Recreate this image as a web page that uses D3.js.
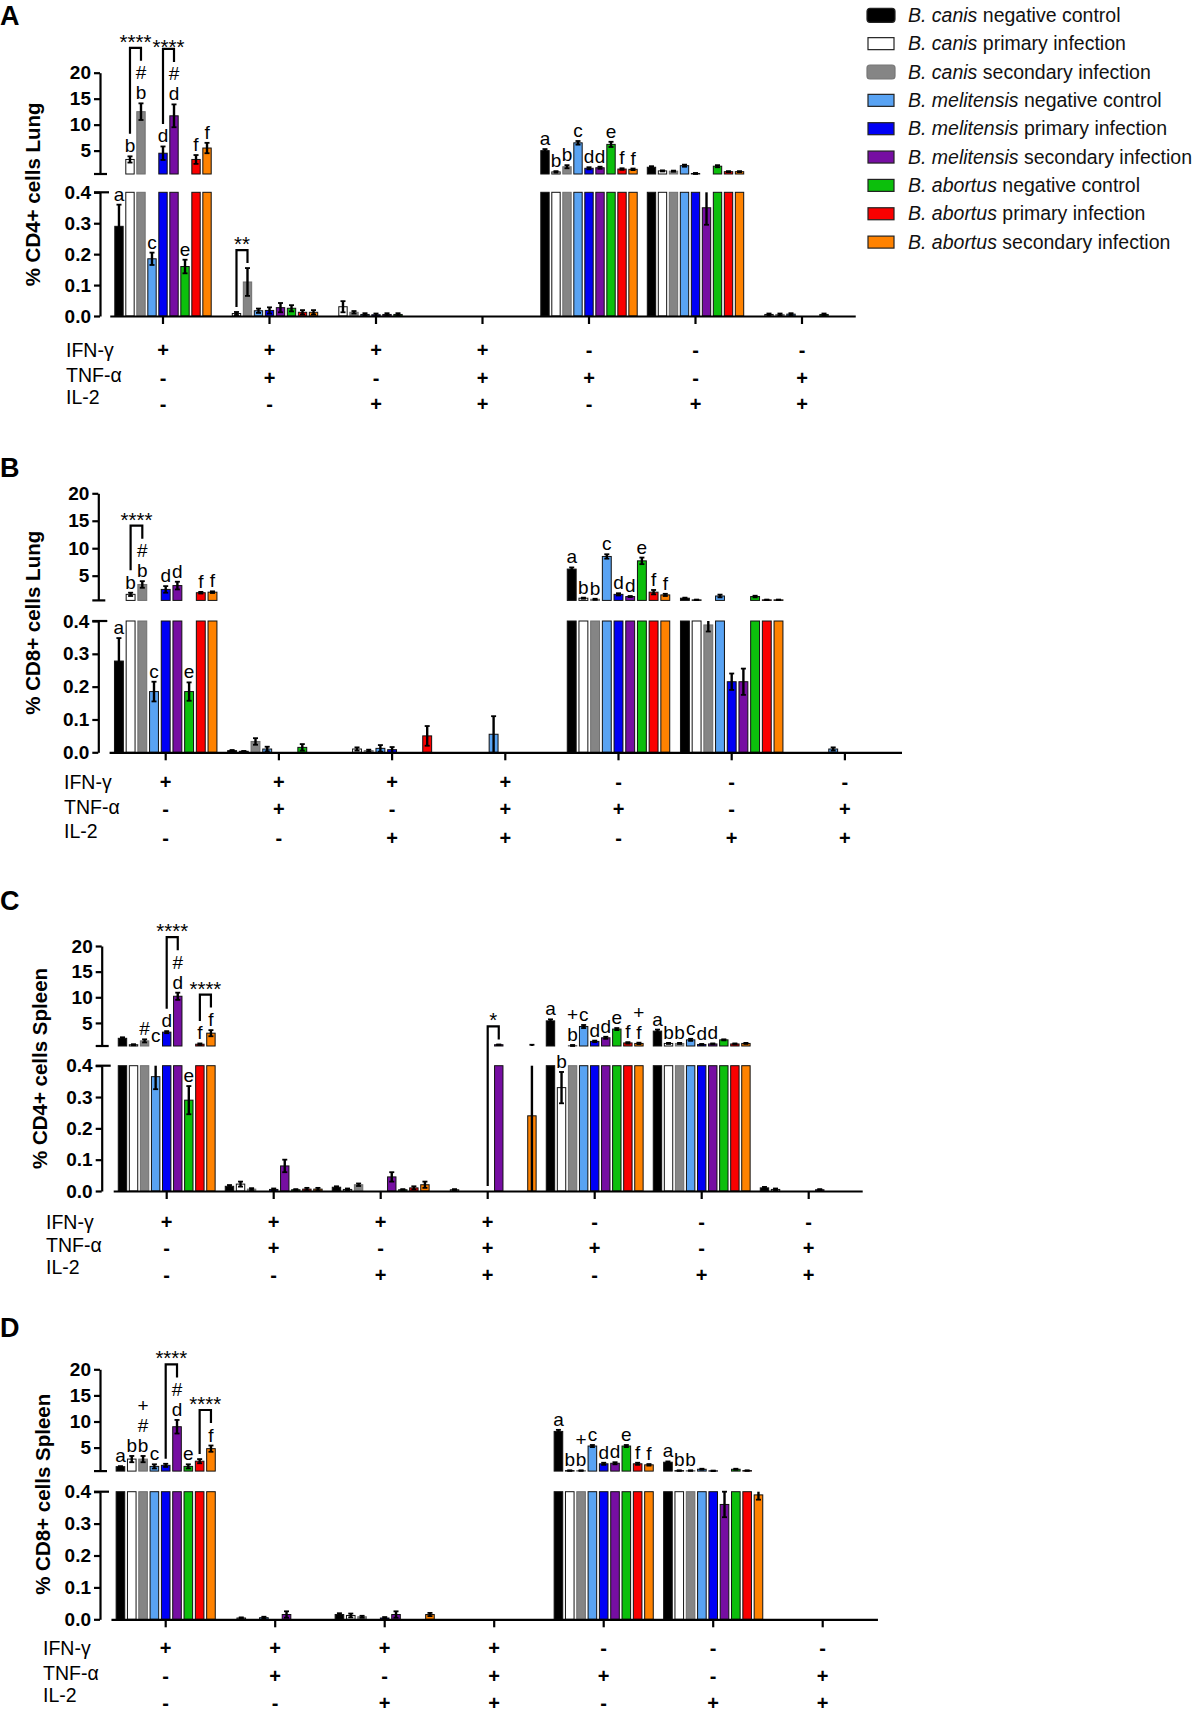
<!DOCTYPE html>
<html><head><meta charset="utf-8">
<script src="https://cdn.jsdelivr.net/npm/d3@7"></script>
<style>body{margin:0;background:#fff}svg{display:block}</style>
</head><body>
<svg id="chart" width="1202" height="1714"></svg>
<script>
// ---------- DATA ----------
const seriesSpecies = ["B. canis","B. canis","B. canis","B. melitensis","B. melitensis","B. melitensis","B. abortus","B. abortus","B. abortus"];
const seriesTypes = ["negative control","primary infection","secondary infection","negative control","primary infection","secondary infection","negative control","primary infection","secondary infection"];
const seriesColors = ["#000000","#ffffff","#858585","#59a3f3","#0000f5","#760ea2","#0cbf0c","#fa0000","#ff8200"];
const groups = ["IFN+TNF-IL2-","IFN+TNF+IL2-","IFN+TNF-IL2+","IFN+TNF+IL2+","IFN-TNF+IL2-","IFN-TNF-IL2+","IFN-TNF+IL2+"];
const rowNames = ["IFN-γ","TNF-α","IL-2"];
const ifnRow = ["+","+","+","+","-","-","-"];
const tnfRow = ["-","+","-","+","+","-","+"];
const il2Row = ["-","-","+","+","-","+","+"];
const upperTicks = [5,10,15,20];
const lowerTicks = [0,0.1,0.2,0.3,0.4];
const axisTitles = ["% CD4+ cells Lung","% CD8+ cells Lung","% CD4+ cells Spleen","% CD8+ cells Spleen"];
const panelLetters = ["A","B","C","D"];

// Panel A: CD4+ Lung (rows = cytokine groups, columns = series)
const cd4LungMean = [
  [0.29, 3.3, 12.5, 0.185, 4.5, 11.7, 0.16, 3.3, 5.5],
  [0, 0.008, 0.11, 0.017, 0.018, 0.027, 0.025, 0.012, 0.012],
  [0, 0.03, 0.012, 0.005, 0.004, 0.005, 0.005, 0, 0],
  [0, 0, 0, 0, 0, 0, 0, 0, 0],
  [5.0, 0.9, 1.9, 6.5, 1.6, 1.7, 6.2, 1.45, 1.4],
  [1.8, 1.1, 1.05, 2.1, 0.6, 0.35, 2.0, 0.95, 0.95],
  [0, 0.005, 0.005, 0.006, 0, 0, 0.005, 0, 0]
];
const cd4LungErr = [
  [0.07, 0.6, 1.6, 0.02, 1.3, 2.2, 0.022, 0.85, 1.0],
  [0, 0.005, 0.045, 0.007, 0.01, 0.015, 0.01, 0.007, 0.007],
  [0, 0.018, 0.004, 0.004, 0.004, 0.004, 0.004, 0, 0],
  [0, 0, 0, 0, 0, 0, 0, 0, 0],
  [0.3, 0.15, 0.3, 0.35, 0.2, 0.2, 0.5, 0.15, 0.15],
  [0.2, 0.1, 0.1, 0.2, 0.1, 0.055, 0.2, 0.1, 0.1],
  [0, 0.003, 0.003, 0.003, 0, 0, 0.003, 0, 0]
];
const cd4LungLetters = [
  ["a","b","b|#","c","d","d|#","e","f","f"], [], [], [],
  ["a","b","b","c","d","d","e","f","f"], [], []
];
const cd4LungBrackets = [[0,1,2,"****"],[0,4,5,"****"],[1,1,2,"**"]];

// Panel B: CD8+ Lung
const cd8LungMean = [
  [0.278, 1.6, 3.4, 0.185, 2.5, 3.2, 0.185, 1.9, 2.0],
  [0.005, 0.003, 0.033, 0.01, 0, 0, 0.015, 0, 0],
  [0, 0.01, 0.005, 0.012, 0.008, 0, 0, 0.05, 0],
  [0, 0, 0, 0.055, 0, 0, 0, 0, 0],
  [6.2, 0.9, 0.7, 8.5, 1.6, 1.2, 7.7, 2.0, 1.5],
  [0.9, 0.6, 0.388, 1.3, 0.215, 0.215, 1.2, 0.6, 0.6],
  [0, 0, 0, 0.01, 0, 0, 0, 0, 0]
];
const cd8LungErr = [
  [0.07, 0.3, 0.6, 0.03, 0.6, 0.7, 0.028, 0.15, 0.15],
  [0.002, 0.001, 0.01, 0.007, 0, 0, 0.01, 0, 0],
  [0, 0.005, 0.003, 0.01, 0.008, 0, 0, 0.03, 0],
  [0, 0, 0, 0.055, 0, 0, 0, 0, 0],
  [0.3, 0.1, 0.1, 0.4, 0.2, 0.1, 0.6, 0.4, 0.2],
  [0.1, 0.05, 0.02, 0.25, 0.025, 0.04, 0.15, 0.05, 0.05],
  [0, 0, 0, 0.005, 0, 0, 0, 0, 0]
];
const cd8LungLetters = [
  ["a","b","b|#","c","d","d","e","f","f"], [], [], [],
  ["a","b","b","c","d","d","e","f","f"], [], []
];
const cd8LungBrackets = [[0,1,2,"****"]];

// Panel C: CD4+ Spleen
const cd4SpleenMean = [
  [2.0, 0.75, 1.5, 0.365, 3.2, 10.2, 0.29, 0.85, 3.0],
  [0.015, 0.022, 0.006, 0, 0.005, 0.08, 0.004, 0.006, 0.006],
  [0.012, 0.005, 0.02, 0, 0, 0.045, 0.004, 0.01, 0.02],
  [0, 0.004, 0, 0, 0, 0.75, 0, 0, 0.24],
  [5.4, 0.33, 0.6, 4.3, 1.4, 2.1, 3.8, 1.1, 1.0],
  [3.4, 1.0, 1.0, 1.7, 0.8, 0.9, 1.7, 0.9, 1.0],
  [0.01, 0.005, 0, 0, 0, 0.004, 0, 0, 0]
];
const cd4SpleenErr = [
  [0.2, 0.1, 0.3, 0.04, 0.2, 0.7, 0.045, 0.15, 0.6],
  [0.004, 0.008, 0.003, 0, 0.003, 0.02, 0.002, 0.004, 0.004],
  [0.003, 0.003, 0.004, 0, 0, 0.015, 0.002, 0.005, 0.01],
  [0, 0.002, 0, 0, 0, 0.05, 0, 0, 0.5],
  [0.3, 0.05, 0.1, 0.3, 0.15, 0.2, 0.2, 0.15, 0.15],
  [0.3, 0.1, 0.1, 0.2, 0.1, 0.1, 0.1, 0.1, 0.1],
  [0.003, 0.003, 0, 0, 0, 0.002, 0, 0, 0]
];
const cd4SpleenLetters = [
  ["","","#","c","d","d|#","e","f","f"], [], [], [],
  ["a","b","b|+","c","d","d","e","f","f|+"],
  ["a","b","b","c","d","d","","",""], []
];
const cd4SpleenBrackets = [[0,4,5,"****"],[0,7,8,"****"],[3,4,5,"*"]];

// Panel D: CD8+ Spleen
const cd8SpleenMean = [
  [1.35, 2.8, 2.8, 1.4, 1.6, 9.0, 1.4, 2.4, 4.8],
  [0, 0.004, 0, 0.005, 0, 0.015, 0, 0, 0],
  [0.015, 0.012, 0.008, 0, 0.004, 0.015, 0, 0, 0.015],
  [0, 0, 0, 0, 0, 0, 0, 0, 0],
  [8.1, 0.6, 0.6, 5.3, 1.9, 2.0, 5.3, 1.9, 1.7],
  [2.2, 0.6, 0.6, 0.85, 0.55, 0.36, 0.85, 0.6, 0.39],
  [0, 0, 0, 0, 0, 0, 0, 0, 0]
];
const cd8SpleenErr = [
  [0.1, 0.6, 0.6, 0.4, 0.3, 1.3, 0.4, 0.4, 0.6],
  [0, 0.002, 0, 0.003, 0, 0.01, 0, 0, 0],
  [0.004, 0.006, 0.003, 0, 0.003, 0.01, 0, 0, 0.005],
  [0, 0, 0, 0, 0, 0, 0, 0, 0],
  [0.3, 0.05, 0.05, 0.2, 0.2, 0.2, 0.2, 0.2, 0.15],
  [0.15, 0.05, 0.05, 0.1, 0.05, 0.04, 0.1, 0.05, 0.015],
  [0, 0, 0, 0, 0, 0, 0, 0, 0]
];
const cd8SpleenLetters = [
  ["a","b","b|#|+","c","","d|#","e","","f"], [], [], [],
  ["a","b","b|+","c","d","d","e","f","f"],
  ["a","b","b","","","","","",""], []
];
const cd8SpleenBrackets = [[0,4,5,"****"],[0,7,8,"****"]];

// ---------- LAYOUT ----------
const layouts = [
  {axisX:100, xStart:109.75, xEnd:855.25, hiTop:72.7, hiBot:174, loTop:192.3, loBot:316, labelX:66, letterY:25, titleX:40, labDy:[34,59,81], symDy:[34,62,88]},
  {axisX:98.3, xStart:109.1, xEnd:901.5, hiTop:493.3, hiBot:600.4, loTop:621, loBot:752.3, labelX:64, letterY:477, titleX:40, labDy:[30,55,79], symDy:[30,57,86]},
  {axisX:101.7, xStart:113.2, xEnd:862.2, hiTop:946, hiBot:1046, loTop:1065.7, loBot:1191, labelX:46, letterY:910, titleX:47, labDy:[31,54,76], symDy:[31,57,84]},
  {axisX:100, xStart:110.95, xEnd:877.45, hiTop:1369.3, hiBot:1471.1, loTop:1491.7, loBot:1619.3, labelX:43, letterY:1337, titleX:50, labDy:[29,54,76], symDy:[29,57,84]}
];
const panelData = [
  [cd4LungMean, cd4LungErr, cd4LungLetters, cd4LungBrackets],
  [cd8LungMean, cd8LungErr, cd8LungLetters, cd8LungBrackets],
  [cd4SpleenMean, cd4SpleenErr, cd4SpleenLetters, cd4SpleenBrackets],
  [cd8SpleenMean, cd8SpleenErr, cd8SpleenLetters, cd8SpleenBrackets]
];

const FONT = "'Liberation Sans', Arial, Helvetica, sans-serif";
const svg = d3.select("#chart");
svg.append("rect").attr("width",1202).attr("height",1714).attr("fill","#fff");

function drawPanel(pi) {
  const cfg = layouts[pi];
  const [means, errs, letters, brackets] = panelData[pi];
  const g = svg.append("g").attr("font-family", FONT);

  const x0 = d3.scaleBand().domain(d3.range(groups.length)).range([cfg.xStart, cfg.xEnd]).paddingInner(0.07).paddingOuter(0.035);
  const x1 = d3.scaleBand().domain(d3.range(seriesColors.length)).range([0, x0.bandwidth()]).paddingInner(0.24).paddingOuter(0.12);
  const yHi = d3.scaleLinear().domain([0.5, 20]).range([cfg.hiBot, cfg.hiTop]);
  const yLo = d3.scaleLinear().domain([0, 0.4]).range([cfg.loBot, cfg.loTop]);
  const cx = (gi, s) => x0(gi) + x1(s) + x1.bandwidth() / 2;
  const topY = t => t <= 0.4 ? yLo(t) : (t < 0.5 ? yHi(0.5) : yHi(t));

  const recs = [];
  means.forEach((row, gi) => row.forEach((v, s) => {
    recs.push({gi, s, v, e: errs[gi][s], lab: ((letters[gi] || [])[s] || "")});
  }));

  // bars
  const barStroke = s => s === 2 ? "#6f6f6f" : "#111";
  const bars = recs.filter(d => d.v > 0);
  g.selectAll("rect.lo").data(bars).join("rect")
    .attr("x", d => x0(d.gi) + x1(d.s)).attr("width", x1.bandwidth())
    .attr("y", d => yLo(Math.min(d.v, 0.4)))
    .attr("height", d => yLo(0) - yLo(Math.min(d.v, 0.4)))
    .attr("fill", d => seriesColors[d.s]).attr("stroke", d => barStroke(d.s)).attr("stroke-width", 1);
  g.selectAll("rect.hi").data(bars.filter(d => d.v > 0.5)).join("rect")
    .attr("x", d => x0(d.gi) + x1(d.s)).attr("width", x1.bandwidth())
    .attr("y", d => yHi(d.v))
    .attr("height", d => yHi(0.5) - yHi(d.v))
    .attr("fill", d => seriesColors[d.s]).attr("stroke", d => barStroke(d.s)).attr("stroke-width", 1);

  // error bars
  recs.filter(d => d.v > 0 && d.e > 0).forEach(d => {
    const lo = Math.max(0, d.v - d.e), hi = d.v + d.e, x = cx(d.gi, d.s);
    const segs = [];
    if (lo < 0.4) segs.push([yLo(lo), yLo(Math.min(hi, 0.4))]);
    if (hi > 0.5) segs.push([yHi(Math.max(lo, 0.5)), yHi(hi)]);
    segs.forEach(sg => g.append("line").attr("x1", x).attr("x2", x).attr("y1", sg[0]).attr("y2", sg[1])
      .attr("stroke", "#000").attr("stroke-width", 2.4));
    const caps = [];
    if (hi <= 0.4 || hi >= 0.5) caps.push(topY(hi));
    if (lo > 0 && (lo <= 0.4 || lo >= 0.5)) caps.push(topY(lo));
    caps.forEach(y => g.append("line").attr("x1", x - 2.5).attr("x2", x + 2.5).attr("y1", y).attr("y2", y)
      .attr("stroke", "#000").attr("stroke-width", 1.8));
  });

  // letter labels
  const labelTop = (gi, s) => {
    const v = means[gi][s], e = errs[gi][s];
    const t = topY(v + e);
    const lab = ((letters[gi] || [])[s] || "");
    if (!lab) return t;
    const n = lab.split("|").length;
    return t - 4 - (n - 1) * 20 - 13.5;
  };
  recs.filter(d => d.lab).forEach(d => {
    const t = topY(d.v + d.e);
    d.lab.split("|").forEach((ch, k) => {
      g.append("text").attr("x", cx(d.gi, d.s)).attr("y", t - 4 - k * 20)
        .attr("text-anchor", "middle").attr("font-size", 19).attr("fill", "#000").text(ch);
    });
  });

  // brackets
  const tops = [];
  brackets.forEach(([gi, sa, sb, txt]) => {
    const xa = cx(gi, sa), xb = cx(gi, sb);
    const ba = labelTop(gi, sa) - 5, bb = labelTop(gi, sb) - 5;
    const top = Math.min(ba, bb) - 13;
    // stagger text when a previous bracket in the same group sits at the same height
    const stagger = tops.some(t => t.gi === gi && Math.abs(t.top - top) < 4);
    tops.push({gi, top});
    g.append("path").attr("d", `M${xa},${ba}V${top}H${xb}V${bb}`)
      .attr("fill", "none").attr("stroke", "#000").attr("stroke-width", 2.2);
    g.append("text").attr("x", (xa + xb) / 2).attr("y", stagger ? top + 5 : top + 1)
      .attr("text-anchor", "middle")
      .attr("font-size", 20.5).attr("fill", "#000").text(txt);
  });

  // axes
  const styleAxis = sel => {
    sel.selectAll("path.domain").attr("stroke", "#000").attr("stroke-width", 2.2);
    sel.selectAll(".tick line").attr("stroke", "#000").attr("stroke-width", 2.2);
    sel.selectAll(".tick text").attr("font-family", FONT).attr("font-weight", "bold").attr("font-size", 19).attr("fill", "#000");
  };
  g.append("g").attr("transform", `translate(${cfg.axisX},0)`)
    .call(d3.axisLeft(yHi).tickValues(upperTicks).tickFormat(d3.format("d")).tickSize(6).tickSizeOuter(0).tickPadding(3))
    .call(styleAxis);
  g.append("g").attr("transform", `translate(${cfg.axisX},0)`)
    .call(d3.axisLeft(yLo).tickValues(lowerTicks).tickFormat(d3.format(".1f")).tickSize(6).tickSizeOuter(0).tickPadding(3))
    .call(styleAxis);
  // break marks
  g.append("line").attr("x1", cfg.axisX - 6).attr("x2", cfg.axisX + 7).attr("y1", yHi(0.5)).attr("y2", yHi(0.5)).attr("stroke", "#000").attr("stroke-width", 2.2);
  g.append("line").attr("x1", cfg.axisX - 6).attr("x2", cfg.axisX + 9).attr("y1", yLo(0.4)).attr("y2", yLo(0.4)).attr("stroke", "#000").attr("stroke-width", 2.2);

  g.append("g").attr("transform", `translate(0,${yLo(0)})`)
    .call(d3.axisBottom(x0).tickFormat("").tickSize(8).tickSizeOuter(0))
    .call(styleAxis);

  // y title
  g.append("text").attr("transform", `translate(${cfg.titleX},${(cfg.hiTop + cfg.loBot) / 2}) rotate(-90)`)
    .attr("text-anchor", "middle").attr("font-weight", "bold").attr("font-size", 20.5).attr("fill", "#000")
    .text(axisTitles[pi]);

  // panel letter
  g.append("text").attr("x", 0).attr("y", cfg.letterY).attr("font-weight", "bold").attr("font-size", 27).attr("fill", "#000").text(panelLetters[pi]);

  // cytokine rows
  const rows = [ifnRow, tnfRow, il2Row];
  rows.forEach((row, ri) => {
    g.append("text").attr("x", cfg.labelX).attr("y", yLo(0) + cfg.labDy[ri] + 7)
      .attr("font-size", 19.5).attr("fill", "#000").text(rowNames[ri]);
    row.forEach((sym, gi) => {
      g.append("text").attr("x", x0(gi) + x0.bandwidth() / 2).attr("y", yLo(0) + cfg.symDy[ri] + 7)
        .attr("text-anchor", "middle").attr("font-size", 20).attr("font-weight", "bold").attr("fill", "#000").text(sym);
    });
  });
}

[0,1,2,3].forEach(drawPanel);

// legend
const leg = svg.append("g").attr("font-family", FONT);
seriesColors.forEach((c, i) => {
  const yc = 15.3 + i * 28.35;
  const rounded = (i === 0 || i === 2);
  leg.append("rect").attr("x", rounded ? 867 : 868).attr("y", yc - (rounded ? 7 : 6)).attr("width", rounded ? 28 : 26).attr("height", rounded ? 14 : 12)
    .attr("rx", rounded ? 3 : 0)
    .attr("fill", c).attr("stroke", i === 2 ? "#777" : "#222").attr("stroke-width", 1.2);
  const t = leg.append("text").attr("x", 908).attr("y", yc + 6.5).attr("font-size", 19.5).attr("fill", "#111");
  t.append("tspan").attr("font-style", "italic").text(seriesSpecies[i]);
  t.append("tspan").text(" " + seriesTypes[i]);
});
</script>
</body></html>
